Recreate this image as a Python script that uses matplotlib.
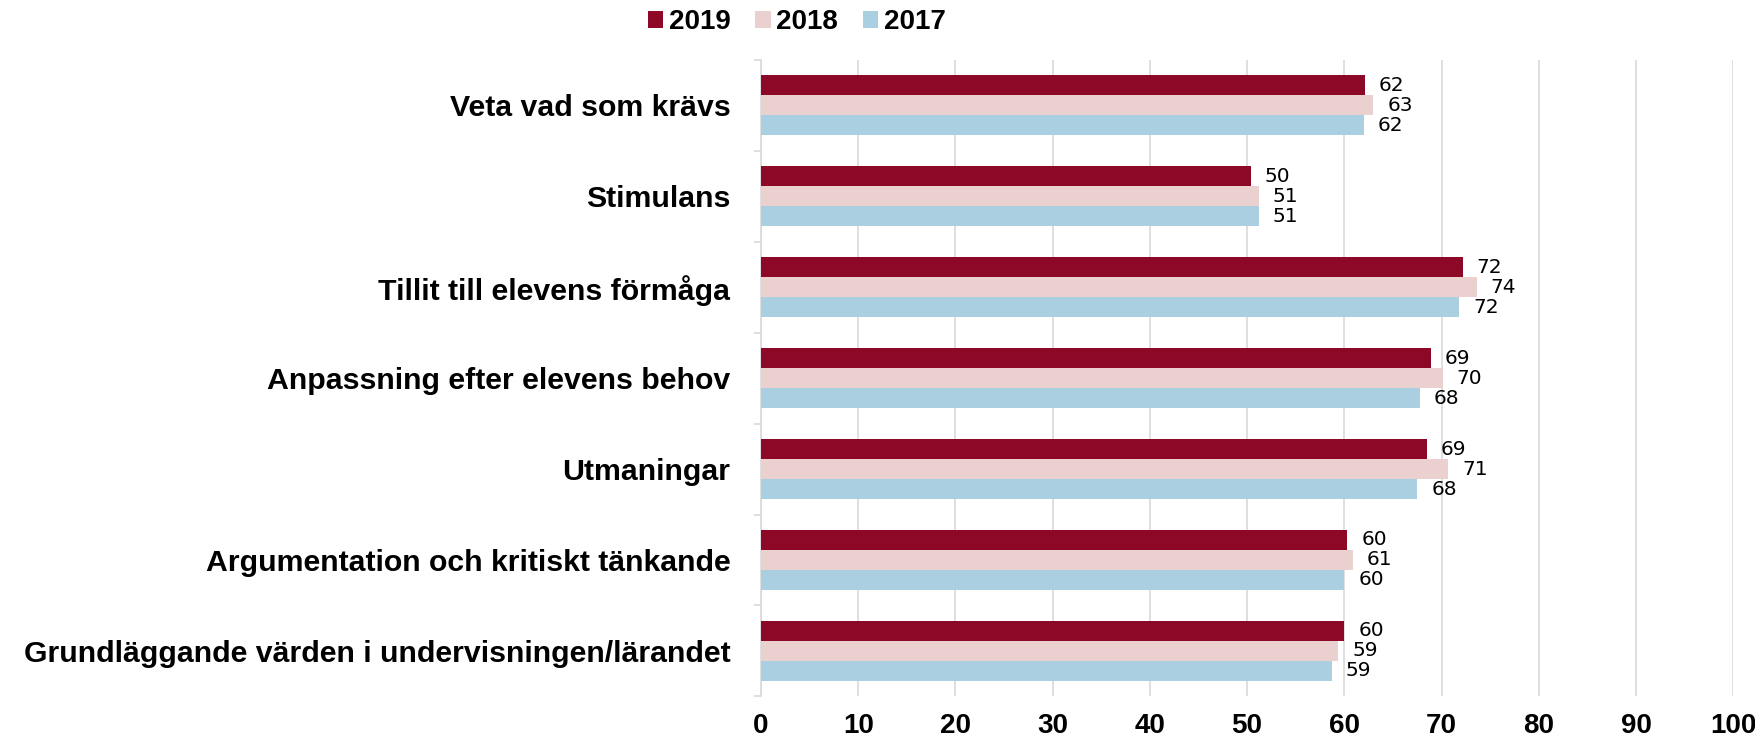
import matplotlib
matplotlib.use('Agg')
from matplotlib import pyplot as plt
import numpy as np

categories = ['Veta vad som krävs', 'Stimulans', 'Tillit till elevens förmåga',
              'Anpassning efter elevens behov', 'Utmaningar',
              'Argumentation och kritiskt tänkande',
              'Grundläggande värden i undervisningen/lärandet']
years = ['2019', '2018', '2017']
v2019 = [62.1, 50.4, 72.2, 68.9, 68.5, 60.3, 60.0]
v2018 = [63.0, 51.2, 73.6, 70.1, 70.7, 60.9, 59.4]
v2017 = [62.0, 51.2, 71.8, 67.8, 67.5, 60.0, 58.7]
labels2019 = [62, 50, 72, 69, 69, 60, 60]
labels2018 = [63, 51, 74, 70, 71, 61, 59]
labels2017 = [62, 51, 72, 68, 68, 60, 59]
colors = ['#8c0826', '#ebd0d0', '#a9cfe1']

font = ['Liberation Sans', 'DejaVu Sans']

fig = plt.figure(figsize=(17.55, 7.40), dpi=100)
ax = fig.add_axes([0.4336, 0.059, 0.554, 0.860])

y = np.arange(len(categories))
h = 0.22
series = [(v2019, labels2019), (v2018, labels2018), (v2017, labels2017)]
for k, (vals, labs) in enumerate(series):
    pos = y + (k - 1) * h
    ax.barh(pos, vals, height=h, color=colors[k], label=years[k], zorder=3)
    for p, v, l in zip(pos, vals, labs):
        ax.annotate(str(l), (v, p), xytext=(10, 0), textcoords='offset points',
                    ha='left', va='center', fontsize=14.5, color='black')

ax.set_xlim(0, 100)
ax.set_ylim(len(categories) - 0.5, -0.5)
ax.set_xticks(range(0, 101, 10))
ax.set_yticks(y)
ax.set_yticks(np.arange(-0.5, len(categories), 1), minor=True)
ax.set_yticklabels(categories, family=font, fontweight='bold', fontsize=21.8)
for t in ax.get_xticklabels():
    t.set_family(font)
    t.set_fontweight('bold')
    t.set_fontsize(20)
ax.tick_params(axis='y', which='major', length=0, pad=22)
ax.tick_params(axis='y', which='minor', length=5, color='#d9d9d9', width=1.2)
ax.tick_params(axis='x', length=0, pad=12)
ax.grid(axis='x', color='#d9d9d9', linewidth=1.2, zorder=0)
for s in ['top', 'right', 'bottom']:
    ax.spines[s].set_visible(False)
ax.spines['left'].set_color('#d9d9d9')
ax.spines['left'].set_linewidth(1.2)

leg = fig.legend(loc='center', bbox_to_anchor=(0.454, 0.970), ncol=3, frameon=False,
                 handlelength=0.55, handleheight=0.55, handletextpad=0.2, columnspacing=0.9,
                 prop={'family': font, 'weight': 'bold', 'size': 20})

plt.savefig('out.png')
